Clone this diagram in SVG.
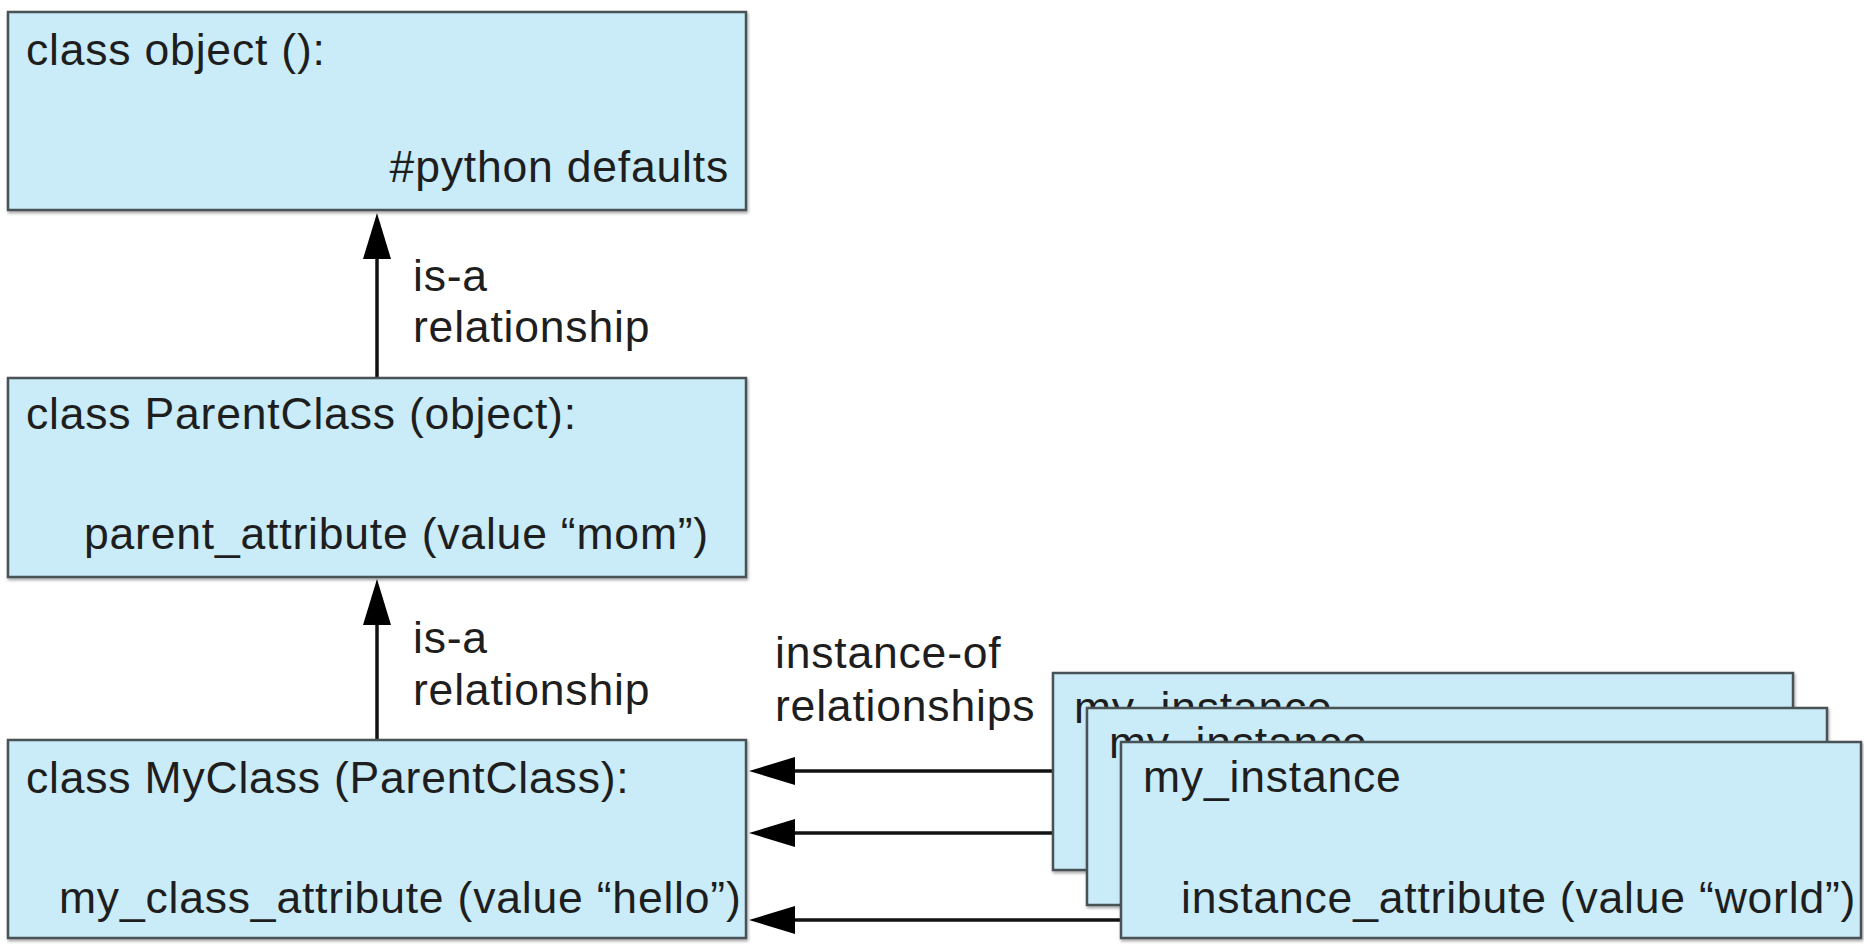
<svg xmlns="http://www.w3.org/2000/svg" width="1864" height="944" viewBox="0 0 1864 944">
  <style>
    .box { fill: #c9ecf8; stroke: #4a5256; stroke-width: 2.5; filter: url(#shadow); }
    .t { font-family: "Liberation Sans", Arial, sans-serif; font-size: 44.5px; letter-spacing: 0.8px; fill: #1e1e1e; }
    .conn { stroke: #111; stroke-width: 3.5; fill: none; }
  </style>
  <defs>
    <filter id="shadow" x="-5%" y="-5%" width="110%" height="115%">
      <feDropShadow dx="1" dy="2" stdDeviation="1.5" flood-color="#000" flood-opacity="0.35"/>
    </filter>
    <marker id="arrow" markerUnits="userSpaceOnUse" markerWidth="46" markerHeight="28" refX="38" refY="14" orient="auto">
      <path d="M0,0 L46,14 L0,28 z" fill="#000"/>
    </marker>
  </defs>
  <rect width="1864" height="944" fill="#ffffff"/>

  <g id="connectors">
    <line class="conn" x1="377" y1="378" x2="377" y2="221" marker-end="url(#arrow)"/>
    <line class="conn" x1="377" y1="740" x2="377" y2="587" marker-end="url(#arrow)"/>
    <line class="conn" x1="1053" y1="771" x2="757" y2="771" marker-end="url(#arrow)"/>
    <line class="conn" x1="1087" y1="833" x2="757" y2="833" marker-end="url(#arrow)"/>
    <line class="conn" x1="1121" y1="920" x2="757" y2="920" marker-end="url(#arrow)"/>
  </g>

  <g id="label-isa-1">
    <text class="t" x="413" y="291">is-a</text>
    <text class="t" x="413" y="342">relationship</text>
  </g>
  <g id="label-isa-2">
    <text class="t" x="413" y="653">is-a</text>
    <text class="t" x="413" y="705">relationship</text>
  </g>
  <g id="label-instance-of">
    <text class="t" x="775" y="668">instance-of</text>
    <text class="t" x="775" y="721">relationships</text>
  </g>

  <g id="node-object">
    <rect class="box" x="8" y="12" width="738" height="198"/>
    <text class="t" x="26" y="65">class object ():</text>
    <text class="t" x="729" y="182" text-anchor="end">#python defaults</text>
  </g>

  <g id="node-parentclass">
    <rect class="box" x="8" y="378" width="738" height="199"/>
    <text class="t" x="26" y="429">class ParentClass (object):</text>
    <text class="t" x="84" y="549">parent_attribute (value “mom”)</text>
  </g>

  <g id="node-myclass">
    <rect class="box" x="8" y="740" width="738" height="198"/>
    <text class="t" x="26" y="793">class MyClass (ParentClass):</text>
    <text class="t" x="59" y="913">my_class_attribute (value “hello”)</text>
  </g>

  <g id="node-instance-1">
    <rect class="box" x="1053" y="673" width="740" height="197"/>
    <text class="t" x="1074" y="723">my_instance</text>
  </g>

  <g id="node-instance-2">
    <rect class="box" x="1087" y="708" width="740" height="197"/>
    <text class="t" x="1109" y="758">my_instance</text>
  </g>

  <g id="node-instance-3">
    <rect class="box" x="1121" y="742" width="740" height="196"/>
    <text class="t" x="1143" y="792">my_instance</text>
    <text class="t" x="1181" y="913">instance_attribute (value “world”)</text>
  </g>
</svg>
